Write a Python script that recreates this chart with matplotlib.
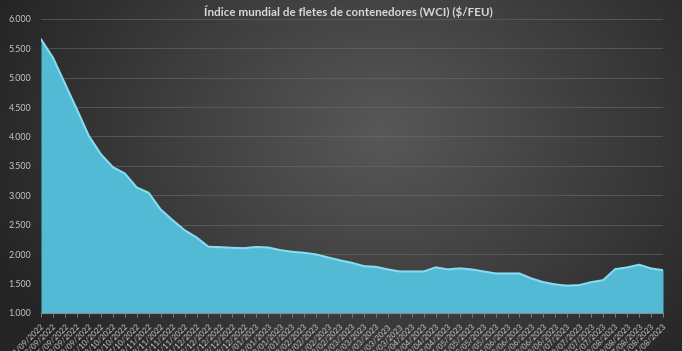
import numpy as np
import matplotlib
matplotlib.use("Agg")
import matplotlib.pyplot as plt
from matplotlib.ticker import FuncFormatter
import datetime as dt

title = "Índice mundial de fletes de contenedores (WCI) ($/FEU)"

start = dt.date(2022, 9, 1)
dates = [start + dt.timedelta(weeks=i) for i in range(53)]
labels = [d.strftime("%d/%m/%Y") for d in dates]

values = [5651, 5340, 4900, 4460, 4010, 3700, 3480, 3372, 3134, 3043,
          2760, 2578, 2408, 2284, 2125, 2119, 2107, 2102, 2122, 2113,
          2068, 2040, 2023, 1995, 1944, 1895, 1852, 1796, 1784, 1740,
          1706, 1706, 1706, 1775, 1741, 1758, 1741, 1706, 1672, 1672,
          1672, 1587, 1524, 1485, 1462, 1473, 1524, 1558, 1745, 1774,
          1820, 1757, 1728]

W, H = 682, 351
fig = plt.figure(figsize=(W / 100, H / 100), dpi=100)

# background radial gradient
bg = fig.add_axes([0, 0, 1, 1])
yy, xx = np.mgrid[0:H, 0:W]
cx, cy = 0.56 * W, 0.38 * H
r = np.sqrt(((xx - cx) / (0.62 * W)) ** 2 + ((yy - cy) / (0.95 * H)) ** 2)
r = np.clip(r, 0, 1)
light = np.array([0x58, 0x58, 0x58]) / 255
dark = np.array([0x24, 0x24, 0x24]) / 255
img = light[None, None, :] * (1 - r[..., None]) + dark[None, None, :] * r[..., None]
bg.imshow(img, extent=[0, 1, 0, 1], aspect="auto", origin="upper")
bg.set_axis_off()

x0, x1 = 41, 663
ytop, ybot = 18.8, 313
ax = fig.add_axes([x0 / W, (H - ybot) / H, (x1 - x0) / W, (ybot - ytop) / H])
ax.patch.set_alpha(0)
x = np.arange(len(values))
ax.fill_between(x, values, 1000, color="#52bad5", zorder=3, linewidth=0)
ax.plot(x, values, color="#86dcf0", lw=1.5, zorder=4, solid_joinstyle="round")
ax.set_xlim(0, len(values) - 1)
ax.set_ylim(1000, 6000)
ax.set_yticks(np.arange(1000, 6001, 500))
ax.yaxis.set_major_formatter(FuncFormatter(lambda v, p: f"{int(v):,}".replace(",", ".")))
ax.grid(axis="y", color="#6a6a6a", lw=0.7, alpha=0.6, zorder=1)
ax.set_axisbelow(True)
for s in ["top", "right", "left"]:
    ax.spines[s].set_visible(False)
ax.spines["bottom"].set_color("#8a8a8a")
ax.spines["bottom"].set_linewidth(0.8)
ax.spines["bottom"].set_zorder(5)

ax.set_xticks(x)
ax.set_xticklabels(labels, rotation=45, ha="right", va="top", rotation_mode="anchor",
                   fontsize=5.8, color="#c8c8c8", family="Lato")
ax.tick_params(axis="x", length=3, width=0.6, color="#8a8a8a", pad=4)
ax.tick_params(axis="y", length=0, pad=7, labelsize=6.4, labelcolor="#c8c8c8")
for t in ax.get_yticklabels():
    t.set_family("Lato")

fig.text(0.511, 1 - 12 / H, title, ha="center", va="center", fontsize=8.4,
         fontweight="bold", color="#d8d8d8", family="Lato")

fig.savefig("out.png", dpi=100)
